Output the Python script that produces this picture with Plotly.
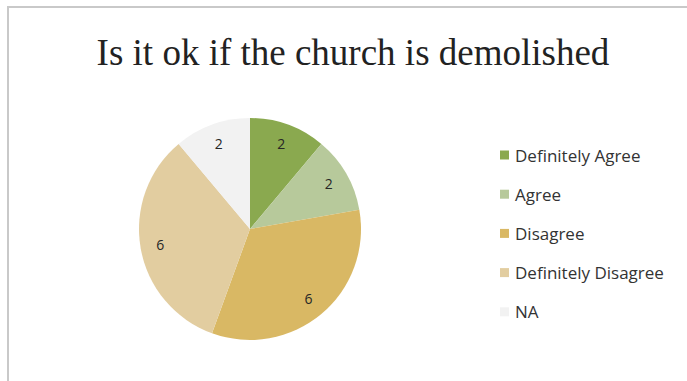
import plotly.graph_objects as go

labels = ["Definitely Agree", "Agree", "Disagree", "Definitely Disagree", "NA"]
values = [2, 2, 6, 6, 2]
colors = ["#8aa94f", "#b7c99b", "#d9b864", "#e2cda0", "#f2f2f2"]

W, H = 687, 381
pie_dom = dict(x=[139 / W, 361 / W], y=[1 - 340 / H, 1 - 118 / H])

fig = go.Figure()
# the coloured pie, no text
fig.add_trace(go.Pie(
    labels=labels,
    values=values,
    sort=False,
    direction="clockwise",
    rotation=0,
    marker=dict(colors=colors, line=dict(width=0)),
    textinfo="none",
    domain=pie_dom,
    showlegend=False,
    hoverinfo="label+value",
))
# transparent ring on top, only to push the value labels out towards the rim like excel does
fig.add_trace(go.Pie(
    labels=labels,
    values=values,
    sort=False,
    direction="clockwise",
    rotation=0,
    hole=0.64,
    marker=dict(colors=["rgba(0,0,0,0)"] * len(values), line=dict(width=0)),
    textinfo="value",
    textposition="inside",
    insidetextorientation="horizontal",
    textfont=dict(family="Open Sans, sans-serif", size=14, color="#262626"),
    domain=pie_dom,
    showlegend=False,
    hoverinfo="skip",
))

# chart frame
fig.add_shape(type="rect", xref="paper", yref="paper",
              x0=8 / W, x1=1.02, y0=-0.05, y1=1 - 7 / H,
              line=dict(color="#c9c9c9", width=2), fillcolor="rgba(0,0,0,0)", layer="below")

# legend drawn by hand to get the wide row spacing
row0, gap = 155, 39.2
for i, (lab, col) in enumerate(zip(labels, colors)):
    yc = 1 - (row0 + i * gap) / H
    fig.add_shape(type="rect", xref="paper", yref="paper",
                  x0=500 / W, x1=509 / W, y0=yc - 4.5 / H, y1=yc + 4.5 / H,
                  fillcolor=col, line=dict(width=0))
    fig.add_annotation(x=513 / W, y=yc, xref="paper", yref="paper",
                       text=lab, showarrow=False, xanchor="left", yanchor="middle",
                       font=dict(family="Open Sans, sans-serif", size=17, color="#333333"))

fig.update_layout(
    width=W, height=H,
    margin=dict(l=0, r=0, t=0, b=0),
    paper_bgcolor="#ffffff",
    title=dict(text="Is it ok if the church is demolished",
               x=353 / W, xanchor="center", y=1 - 52 / H, yanchor="middle",
               font=dict(family="Liberation Serif, serif", size=37, color="#222222")),
)

# drop the browser's default 8px body margin so the figure sits at 0,0
fig.write_html("out.html", config={"displayModeBar": False},
               post_script="document.body.style.margin='0';")
